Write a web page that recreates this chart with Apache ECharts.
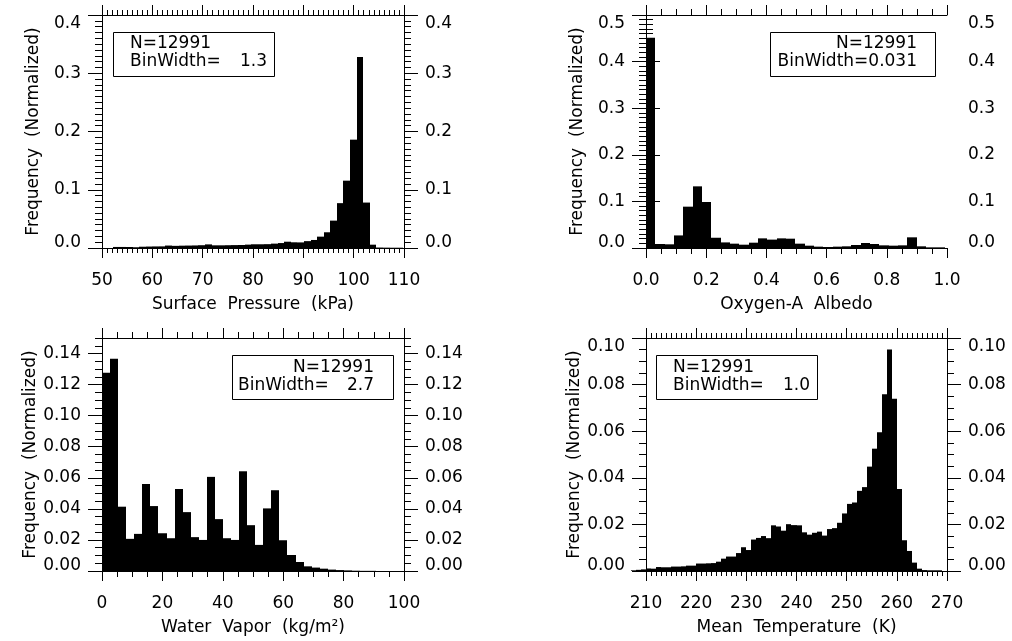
<!DOCTYPE html>
<html>
<head>
<meta charset="utf-8">
<script src="https://cdn.jsdelivr.net/npm/echarts@6/dist/echarts.min.js"></script>
<style>
  html, body { margin: 0; padding: 0; background: #fff; }
  #chart { width: 1012px; height: 641px; }
</style>
</head>
<body>
<div id="chart"></div>
<script>
// 히스토그램 값
const sampleCount = 12991;

// Surface Pressure (kPa), bin 1.3
const pressureStart = 52.13;
const pressureWidth = 1.31;
const pressureFreq = [
  0.0018, 0.0018, 0.0017, 0.0013, 0.0022, 0.0025, 0.0027, 0.0028, 0.0042, 0.0037,
  0.0040, 0.0042, 0.0044, 0.0048, 0.0062, 0.0046, 0.0046, 0.0048, 0.0050, 0.0052,
  0.0058, 0.0064, 0.0064, 0.0066, 0.0075, 0.0085, 0.0108, 0.0098, 0.0096, 0.0118,
  0.0138, 0.0195, 0.0270, 0.0470, 0.0770, 0.1156, 0.1860, 0.3280, 0.0780, 0.0057,
  0.0008, 0.0006, 0.0005, 0.0005
];

// Oxygen-A Albedo, bin 0.031
const albedoStart = 0;
const albedoWidth = 0.031;
const albedoFreq = [
  0.4510, 0.0086, 0.0079, 0.0270, 0.0887, 0.1323, 0.0987, 0.0220, 0.0120, 0.0093,
  0.0071, 0.0114, 0.0207, 0.0180, 0.0207, 0.0200, 0.0093, 0.0050, 0.0029, 0.0021,
  0.0029, 0.0036, 0.0064, 0.0107, 0.0086, 0.0057, 0.0050, 0.0057, 0.0229, 0.0036,
  0.0014, 0.0014
];

// Water Vapor (kg/m2), bin 2.7
const vaporStart = 0;
const vaporWidth = 2.67;
const vaporFreq = [
  0.1276, 0.1366, 0.0414, 0.0207, 0.0239, 0.0560, 0.0418, 0.0243, 0.0211, 0.0528,
  0.0379, 0.0218, 0.0200, 0.0606, 0.0334, 0.0211, 0.0200, 0.0642, 0.0295, 0.0168,
  0.0403, 0.0520, 0.0198, 0.0103, 0.0058, 0.0030, 0.0022, 0.0015, 0.0009, 0.0006,
  0.0004, 0.0002, 0.0001, 0.0001
];

// Mean Temperature (K), bin 1.0
const tempStart = 207;
const tempWidth = 1.0;
const tempFreq = [
  0.0003, 0.0005, 0.0007, 0.0011, 0.0010, 0.0017, 0.0016, 0.0016, 0.0019, 0.0019,
  0.0020, 0.0023, 0.0023, 0.0032, 0.0032, 0.0033, 0.0034, 0.0040, 0.0053, 0.0062,
  0.0062, 0.0077, 0.0102, 0.0090, 0.0135, 0.0142, 0.0150, 0.0141, 0.0196, 0.0191,
  0.0173, 0.0201, 0.0197, 0.0196, 0.0166, 0.0156, 0.0164, 0.0169, 0.0152, 0.0180,
  0.0184, 0.0207, 0.0247, 0.0288, 0.0294, 0.0344, 0.0360, 0.0448, 0.0525, 0.0595,
  0.0759, 0.0951, 0.0739, 0.0352, 0.0132, 0.0086, 0.0036, 0.0010, 0.0004, 0.0003,
  0.0003, 0.0003
];

const vaporMajorTicks = [0, 0.02, 0.04, 0.06, 0.08, 0.10, 0.12, 0.14];

const FONT = 'DejaVu Sans';
const FS = 17;
const BLACK = '#000';

// bin edges + value -> [x0, x1, y]
function binData(start, width, values) {
    return values.map(function (v, i) {
        return [start + i * width, start + (i + 1) * width, v];
    });
}

// 막대 사이 흰 틈 방지: 픽셀 정수로 맞춤
function renderBar(params, api) {
    let p0 = api.coord([api.value(0), 0]);
    let p1 = api.coord([api.value(1), api.value(2)]);
    let x0 = Math.round(p0[0]);
    let x1 = Math.round(p1[0]);
    let yb = Math.round(p0[1]);
    let yt = p1[1];
    return {
        type: 'rect',
        shape: { x: x0, y: yt, width: x1 - x0, height: yb - yt },
        style: { fill: BLACK }
    };
}

// 0 라벨은 조금 위로 (IDL 스타일)
function yFormatter(digits) {
    return function (v) {
        let s = v.toFixed(digits);
        return v === 0 ? '{lo|' + s + '}' : s;
    };
}
const yRich = { lo: { padding: [0, 0, 10, 0], fontFamily: FONT, fontSize: FS, color: BLACK } };

function xAxisPair(gi, min, max, interval, minorSplit, minorLen, digits, name) {
    let common = {
        type: 'value', gridIndex: gi, min: min, max: max, interval: interval,
        axisLine: { show: true, onZero: false, lineStyle: { color: BLACK, width: 1 } },
        axisTick: { show: true, length: 10, lineStyle: { color: BLACK } },
        minorTick: { show: true, splitNumber: minorSplit, length: minorLen, lineStyle: { color: BLACK } },
        splitLine: { show: false }
    };
    let bottom = Object.assign({}, common, {
        position: 'bottom',
        name: name, nameLocation: 'middle', nameGap: 48,
        nameTextStyle: { color: BLACK, fontFamily: FONT, fontSize: FS },
        axisLabel: {
            margin: 24, color: BLACK, fontFamily: FONT, fontSize: FS,
            formatter: function (v) { return v.toFixed(digits); }
        }
    });
    let top = Object.assign({}, common, {
        position: 'top',
        axisLabel: { show: false }
    });
    return [bottom, top];
}

function yAxisPair(gi, max, interval, minorSplit, digits) {
    let common = {
        type: 'value', gridIndex: gi, min: 0, max: max, interval: interval,
        axisLine: { show: true, lineStyle: { color: BLACK, width: 1 } },
        axisTick: { show: true, length: 14, lineStyle: { color: BLACK } },
        minorTick: { show: true, splitNumber: minorSplit, length: 7, lineStyle: { color: BLACK } },
        splitLine: { show: false },
        axisLabel: {
            margin: 21, color: BLACK, fontFamily: FONT, fontSize: FS,
            verticalAlignMaxLabel: 'top',
            formatter: yFormatter(digits), rich: yRich
        }
    };
    let left = Object.assign({}, common, {
        position: 'left',
        name: 'Frequency  (Normalized)', nameLocation: 'middle', nameGap: 60,
        nameTextStyle: { color: BLACK, fontFamily: FONT, fontSize: FS }
    });
    let right = Object.assign({}, common, { position: 'right' });
    return [left, right];
}

// Water vapor y축: 0.15 최대값 -> 큰 눈금/작은 눈금 축 분리
function vaporYAxes(gi) {
    let fine = {
        type: 'value', gridIndex: gi, min: 0, max: 0.15, interval: 0.005,
        axisLine: { show: true, lineStyle: { color: BLACK, width: 1 } },
        axisTick: { show: true, length: 7, lineStyle: { color: BLACK } },
        axisLabel: { show: false },
        splitLine: { show: false }
    };
    let major = {
        type: 'value', gridIndex: gi, min: 0, max: 0.15, interval: 0.02,
        axisLine: { show: false },
        axisTick: { show: true, length: 14, customValues: vaporMajorTicks, lineStyle: { color: BLACK } },
        splitLine: { show: false },
        axisLabel: {
            margin: 21, color: BLACK, fontFamily: FONT, fontSize: FS,
            customValues: vaporMajorTicks,
            formatter: yFormatter(2), rich: yRich
        }
    };
    return [
        Object.assign({}, fine, { position: 'left' }),
        Object.assign({}, major, {
            position: 'left',
            name: 'Frequency  (Normalized)', nameLocation: 'middle', nameGap: 60,
            nameTextStyle: { color: BLACK, fontFamily: FONT, fontSize: FS }
        }),
        Object.assign({}, fine, { position: 'right' }),
        Object.assign({}, major, { position: 'right' })
    ];
}

function legendBox(x, y, w, h) {
    return { type: 'rect', shape: { x: x, y: y, width: w, height: h },
        style: { fill: 'none', stroke: BLACK, lineWidth: 1 } };
}
function label(x, y, text, align) {
    return { type: 'text', x: x, y: y,
        style: { text: text, font: FS + 'px "' + FONT + '"', fill: BLACK, align: align, verticalAlign: 'middle' } };
}

let xAxes = []
    .concat(xAxisPair(0, 50, 110, 10, 10, 5, 0, 'Surface  Pressure  (kPa)'))
    .concat(xAxisPair(1, 0, 1.0, 0.2, 4, 6, 1, 'Oxygen-A  Albedo'))
    .concat(xAxisPair(2, 0, 100, 20, 4, 6, 0, 'Water  Vapor  (kg/m\u00B2)'))
    .concat(xAxisPair(3, 210, 270, 10, 10, 5, 0, 'Mean  Temperature  (K)'));

let yAxes = []
    .concat(yAxisPair(0, 0.4, 0.1, 10, 1))   // 0,1
    .concat(yAxisPair(1, 0.5, 0.1, 10, 1))   // 2,3
    .concat(vaporYAxes(2))                   // 4,5,6,7
    .concat(yAxisPair(3, 0.10, 0.02, 4, 2)); // 8,9

let option = {
    animation: false,
    backgroundColor: '#fff',
    grid: [
        { left: 102, top: 15, width: 302, height: 233 },
        { left: 646, top: 15, width: 301, height: 233 },
        { left: 102, top: 338, width: 302, height: 233 },
        { left: 646, top: 338, width: 301, height: 233 }
    ],
    xAxis: xAxes,
    yAxis: yAxes,
    series: [
        { type: 'custom', xAxisIndex: 0, yAxisIndex: 0, renderItem: renderBar,
          encode: { x: [0, 1], y: 2 }, data: binData(pressureStart, pressureWidth, pressureFreq) },
        { type: 'custom', xAxisIndex: 2, yAxisIndex: 2, renderItem: renderBar,
          encode: { x: [0, 1], y: 2 }, data: binData(albedoStart, albedoWidth, albedoFreq) },
        { type: 'custom', xAxisIndex: 4, yAxisIndex: 4, renderItem: renderBar,
          encode: { x: [0, 1], y: 2 }, data: binData(vaporStart, vaporWidth, vaporFreq) },
        { type: 'custom', xAxisIndex: 6, yAxisIndex: 8, renderItem: renderBar,
          encode: { x: [0, 1], y: 2 }, data: binData(tempStart, tempWidth, tempFreq) }
    ],
    graphic: [
        // 좌상
        legendBox(113.5, 32.5, 161, 44),
        label(130, 44, 'N=' + sampleCount, 'left'),
        label(130, 62, 'BinWidth=', 'left'),
        label(267, 62, '1.3', 'right'),
        // 우상
        legendBox(770.5, 32.5, 165, 44),
        label(917, 44, 'N=' + sampleCount, 'right'),
        label(917, 62, 'BinWidth=0.031', 'right'),
        // 좌하
        legendBox(232.5, 355.5, 161, 44),
        label(374, 367.5, 'N=' + sampleCount, 'right'),
        label(238, 386, 'BinWidth=', 'left'),
        label(374, 386, '2.7', 'right'),
        // 우하
        legendBox(656.5, 355.5, 161, 44),
        label(673, 367.5, 'N=' + sampleCount, 'left'),
        label(673, 386, 'BinWidth=', 'left'),
        label(810, 386, '1.0', 'right')
    ]
};

let myChart = echarts.init(document.getElementById('chart'));
myChart.setOption(option);
</script>
</body>
</html>
